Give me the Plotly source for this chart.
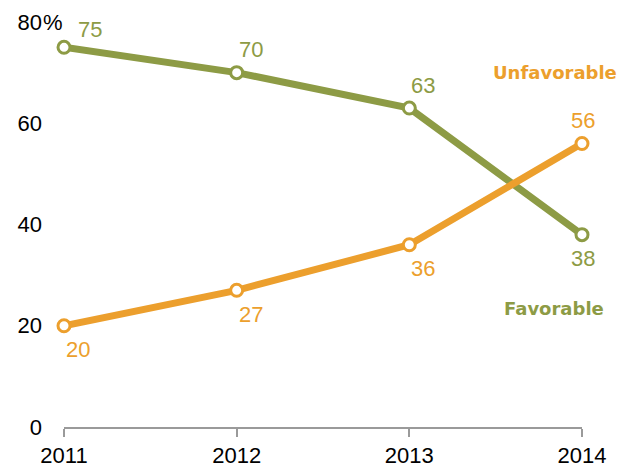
import plotly.graph_objects as go

years = [2011, 2012, 2013, 2014]
favorable = [75, 70, 63, 38]
unfavorable = [20, 27, 36, 56]
fav_label_pos = ["above", "above", "above", "below"]
unf_label_pos = ["below", "below", "below", "above"]
y_ticks = [0, 20, 40, 60, 80]
y_ticktext = ["0", "20", "40", "60", "80"]

GREEN = "#8D9B45"
ORANGE = "#EC9F2D"
FONT = "Liberation Sans, Arial, sans-serif"
BOLD = "DejaVu Sans, sans-serif"

fig = go.Figure()
for vals, col in [(favorable, GREEN), (unfavorable, ORANGE)]:
    fig.add_trace(go.Scatter(
        x=years, y=vals, mode="lines+markers",
        line=dict(color=col, width=7),
        marker=dict(size=12, color="white", line=dict(color=col, width=3)),
        cliponaxis=False, hoverinfo="skip", showlegend=False))

for vals, pos, col in [(favorable, fav_label_pos, GREEN), (unfavorable, unf_label_pos, ORANGE)]:
    n = len(vals)
    for i, (x, v, p) in enumerate(zip(years, vals, pos)):
        ys = 23 if p == "above" else -24
        if i == n - 1:
            xs = 1
        elif i == 0 and p == "above":
            xs, ys = 26, 18
        else:
            xs = 14
        fig.add_annotation(x=x, y=v, text=str(v), showarrow=False,
                           xshift=xs, yshift=ys,
                           font=dict(family=FONT, size=22, color=col))

fig.add_annotation(x=0.948, xref="paper", y=70, text="<b>Unfavorable</b>", showarrow=False,
                   xanchor="center", yanchor="middle",
                   font=dict(family=BOLD, size=18, color=ORANGE))
fig.add_annotation(x=0.946, xref="paper", y=23.5, text="<b>Favorable</b>", showarrow=False,
                   xanchor="center", yanchor="middle",
                   font=dict(family=BOLD, size=18, color=GREEN))
fig.add_annotation(x=0, xref="paper", y=80, text="%", showarrow=False, xanchor="left",
                   xshift=-23, font=dict(family=FONT, size=22, color="#000"))

fig.update_layout(
    width=628, height=466,
    margin=dict(l=64, r=46, t=22, b=39),
    paper_bgcolor="white", plot_bgcolor="white",
    xaxis=dict(range=[2011, 2014], tickvals=years, ticktext=[str(y) for y in years],
               automargin=False,
               showgrid=False, zeroline=False, showline=True, linecolor="#9a9a9a", linewidth=2,
               ticks="outside", ticklen=8, tickwidth=2, tickcolor="#9a9a9a",
               tickfont=dict(family=FONT, size=22, color="#000")),
    yaxis=dict(range=[0, 80], tickvals=y_ticks, ticktext=y_ticktext,
               automargin=False,
               showgrid=False, zeroline=False, showline=False, ticks="",
               ticklabelstandoff=21,
               tickfont=dict(family=FONT, size=22, color="#000")),
)
fig.write_html("out.html", config={"displayModeBar": False},
               post_script="document.body.style.margin='0';")
